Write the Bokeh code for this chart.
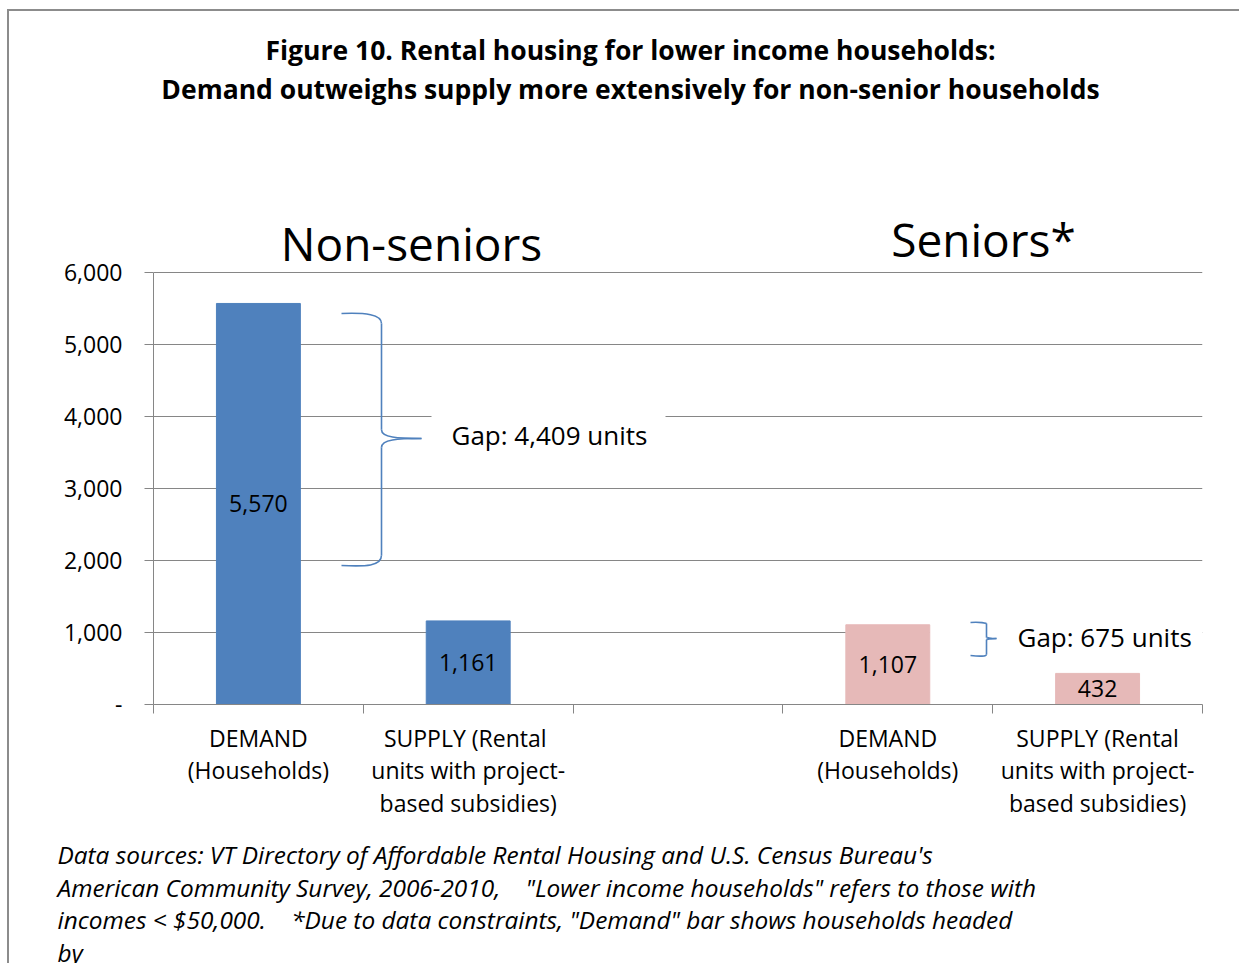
from bokeh.plotting import figure
from bokeh.layouts import column
from bokeh.models import (Range1d, FixedTicker, LinearAxis, NumeralTickFormatter,
                          Grid, ColumnDataSource)
from bokeh.core.properties import value
from bokeh.embed import file_html
from bokeh.resources import INLINE

NB = "\u00a0"  # keep the wide gaps of the original footnote visible

# ---------------- data ----------------
categories = [
    "DEMAND\n(Households)",
    "SUPPLY  (Rental\nunits with project-\nbased subsidies)",
    "",
    "DEMAND\n(Households)",
    "SUPPLY (Rental\nunits with project-\nbased subsidies)",
]
group_names = ["Non-seniors", "Seniors*"]
nonsenior_values = [5570, 1161]   # demand, supply
senior_values = [1107, 432]       # demand, supply
gap_labels = ["Gap: 4,409 units", "Gap: 675 units"]
y_ticks = [0, 1000, 2000, 3000, 4000, 5000, 6000]

title_lines = [
    "Figure 10. Rental housing for lower income households:",
    "Demand outweighs supply more extensively for non-senior households",
]
footnote_lines = [
    "Data sources: VT Directory of Affordable Rental Housing and U.S. Census Bureau's",
    "American Community Survey, 2006-2010," + NB * 4 + "\"Lower income households\" refers to those with",
    "incomes < $50,000." + NB * 4 + "*Due to data constraints, \"Demand\" bar shows households headed",
    "by",
]

# ---------------- layout helpers ----------------
FONT = "Open Sans"
BLUE = "#4F81BD"
PINK = "#E6B9B8"
GRID = "#868686"
BORDER = "#8c8c8c"

OX, OY = 9, 11                              # content origin (after margin + border)
FX0, FX1, FY0, FY1 = 153, 1202, 704, 272    # frame left/right, y of 0, y of 6000
FTOP = OY
NSLOT = len(categories)
YMAX = y_ticks[-1]
W = 1230
BOTTOM1 = 135


def dx(px):
    return (px - FX0) / (FX1 - FX0) * NSLOT


def dy(py):
    return (FY0 - py) / (FY0 - FY1) * YMAX


p = figure(
    output_backend="svg", toolbar_location=None,
    frame_width=FX1 - FX0, frame_height=FY0 - FTOP,
    min_border_left=FX0 - OX, min_border_right=W - (FX1 - OX),
    min_border_top=0, min_border_bottom=BOTTOM1,
    x_range=Range1d(0, NSLOT), y_range=Range1d(0, dy(FTOP)),
    x_axis_type=None, y_axis_type=None,
)
p.outline_line_color = None
p.background_fill_color = "white"
p.border_fill_color = "white"

# y axis
yax = LinearAxis(ticker=FixedTicker(ticks=y_ticks),
                 formatter=NumeralTickFormatter(format="0,0"), bounds=(0, YMAX))
yax.major_label_overrides = {0: "-"}
yax.axis_line_color = GRID
yax.major_tick_line_color = GRID
yax.major_tick_out = 9
yax.major_tick_in = 0
yax.minor_tick_line_color = None
yax.major_label_standoff = 22
yax.major_label_text_font = FONT
yax.major_label_text_font_size = "23px"
yax.major_label_text_color = "black"
p.add_layout(yax, "left")

# x axis: labels at slot centres, ticks at slot boundaries (minor ticks)
centers = [i + 0.5 for i in range(NSLOT)]
xax = LinearAxis(ticker=FixedTicker(ticks=centers, minor_ticks=list(range(NSLOT + 1))))
xax.major_label_overrides = {c: lab for c, lab in zip(centers, categories)}
xax.axis_line_color = GRID
xax.major_tick_line_color = None
xax.minor_tick_line_color = GRID
xax.minor_tick_out = 9
xax.minor_tick_in = 0
xax.major_label_standoff = 8
xax.major_label_text_font = FONT
xax.major_label_text_font_size = "23px"
xax.major_label_text_color = "black"
xax.major_label_text_line_height = 1.02
p.add_layout(xax, "below")

p.add_layout(Grid(dimension=1, ticker=FixedTicker(ticks=y_ticks),
                  grid_line_color=GRID, grid_line_width=1))

# bars
bar_x = [0.5, 1.5, 3.5, 4.5]
bar_vals = nonsenior_values + senior_values
bar_cols = [BLUE, BLUE, PINK, PINK]
src = ColumnDataSource(dict(
    x=bar_x, top=bar_vals, color=bar_cols,
    mid=[v / 2 for v in bar_vals],
    lab=[f"{v:,}" for v in bar_vals],
))

# white text boxes behind gap labels (hide gridlines)
p.quad(left=[dx(431), dx(929)], right=[dx(665), dx(1202)],
       bottom=[dy(456), dy(652)], top=[dy(412), dy(620)],
       fill_color="white", line_color=None)

p.vbar(x="x", top="top", width=0.4, color="color", source=src)
p.text(x="x", y="mid", text="lab", source=src, text_align="center",
       text_baseline="middle", text_font=value(FONT), text_font_size="23px",
       text_color="black")


# braces
def brace(xl, xm, xt, yt, ym, yb):
    segs = [
        ((xl, yt), (xm, yt + (ym - yt) * 0.08), (xl + (xm - xl) * 0.6, yt - 1), (xm, yt + 1)),
        ((xm, yt + (ym - yt) * 0.08), (xm, ym - (ym - yt) * 0.07), None, None),
        ((xm, ym - (ym - yt) * 0.07), (xt, ym), (xm, ym - 1), (xm + (xt - xm) * 0.4, ym)),
        ((xt, ym), (xm, ym + (yb - ym) * 0.07), (xm + (xt - xm) * 0.4, ym), (xm, ym + 1)),
        ((xm, ym + (yb - ym) * 0.07), (xm, yb - (yb - ym) * 0.08), None, None),
        ((xm, yb - (yb - ym) * 0.08), (xl, yb), (xm, yb + 1), (xl + (xm - xl) * 0.6, yb + 1)),
    ]
    for (a, b, c0, c1) in segs:
        if c0 is None:
            p.line([dx(a[0]), dx(b[0])], [dy(a[1]), dy(b[1])], line_color=BLUE, line_width=1.6)
        else:
            p.bezier(x0=[dx(a[0])], y0=[dy(a[1])], x1=[dx(b[0])], y1=[dy(b[1])],
                     cx0=[dx(c0[0])], cy0=[dy(c0[1])], cx1=[dx(c1[0])], cy1=[dy(c1[1])],
                     line_color=BLUE, line_width=1.6)


brace(341, 381, 421, 313, 438, 565)
brace(970, 986, 996, 622, 638, 655)

p.text(x=[dx(451), dx(1017)], y=[dy(434), dy(636)], text=gap_labels,
       text_align="left", text_baseline="middle", text_font=value(FONT),
       text_font_size="26px", text_color="black")

# title and group headings (inside the extended frame, above the y-axis bounds)
p.text(x=[dx(630)] * len(title_lines), y=[dy(49), dy(88)], text=title_lines,
       text_align="center", text_baseline="middle", text_font=value(FONT),
       text_font_style="bold", text_font_size="26.5px", text_color="black")
p.text(x=[dx(411), dx(983)], y=[dy(242), dy(238)], text=group_names,
       text_align="center", text_baseline="middle", text_font=value(FONT),
       text_font_size="46px", text_color="black")

# ---------------- footnote panel ----------------
TOP2 = OY + (FY0 - FTOP) + BOTTOM1       # page y where the second panel starts
H2 = 963 - TOP2
q = figure(
    output_backend="svg", toolbar_location=None,
    frame_width=W, frame_height=H2,
    min_border_left=0, min_border_right=0, min_border_top=0, min_border_bottom=0,
    x_range=Range1d(0, W), y_range=Range1d(H2, 0),
    x_axis_type=None, y_axis_type=None,
)
q.outline_line_color = None
q.xgrid.visible = False
q.ygrid.visible = False
for fig in (p, q):
    if "frame_align" in fig.properties():
        fig.frame_align = False
q.text(x=[57 - OX] * len(footnote_lines),
       y=[854 - TOP2 + 32.5 * i for i in range(len(footnote_lines))],
       text=footnote_lines, text_align="left", text_baseline="middle",
       text_font=value(FONT), text_font_style="italic", text_font_size="24.4px",
       text_color="black")

layout = column(p, q, spacing=0,
                styles={"border-left": f"2px solid {BORDER}",
                        "border-top": f"2px solid {BORDER}",
                        "margin-left": "7px", "margin-top": "9px"})

open("out.html", "w").write(file_html(layout, INLINE))
